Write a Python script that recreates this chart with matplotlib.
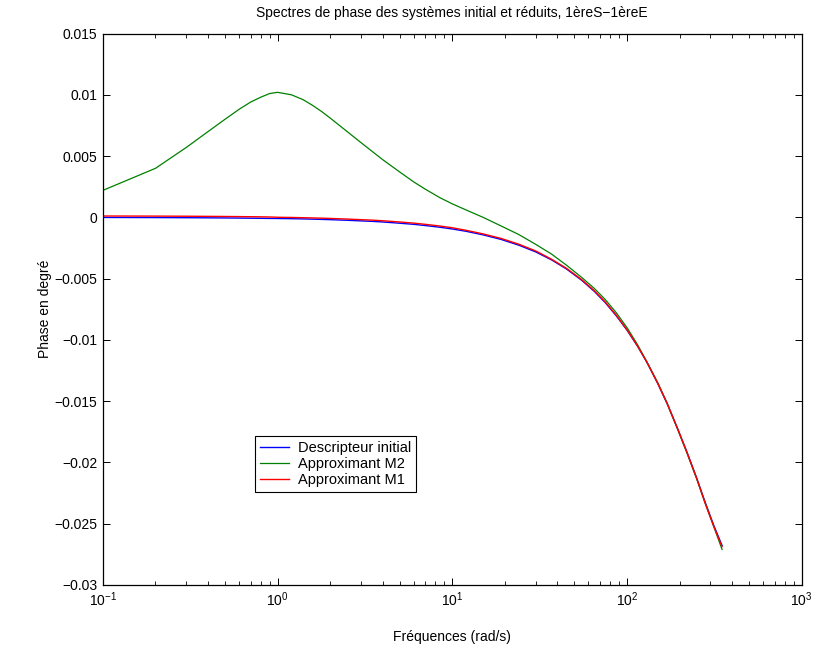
import matplotlib
matplotlib.use("Agg")
import matplotlib.pyplot as plt
from matplotlib.ticker import FuncFormatter, MultipleLocator, LogLocator, NullFormatter

freq = [0.1, 0.2, 0.3, 0.4, 0.5, 0.6, 0.7, 0.8, 0.9, 1.0, 1.2, 1.4, 1.6, 1.8, 2, 2.5, 3, 3.5, 4, 5,
        6, 7, 8.5, 10, 12, 15, 19, 24, 30, 37, 45, 55, 65, 75, 87, 100, 115, 130, 150, 170, 195,
        220, 250, 280, 315, 350]

descripteur = [-0.00001, -0.00002, -0.00003, -0.00004, -0.00005, -0.00006, -0.00007, -0.00008,
               -0.00009, -0.000095, -0.00011, -0.00013, -0.00015, -0.00017, -0.00019, -0.00024,
               -0.00029, -0.00033, -0.00038, -0.00048, -0.00057, -0.00067, -0.00081, -0.00095,
               -0.00114, -0.00143, -0.0018, -0.00227, -0.00282, -0.00347, -0.00421, -0.00513,
               -0.00604, -0.00695, -0.00805, -0.0092, -0.01052, -0.01183, -0.01356, -0.01522,
               -0.01726, -0.01914, -0.02125, -0.02324, -0.0252, -0.02678]

approx_m2 = [0.0022, 0.0040, 0.0057, 0.0070, 0.0080, 0.0088, 0.0094, 0.0098, 0.0101, 0.0102,
             0.0100, 0.0096, 0.0091, 0.0086, 0.0081, 0.0070, 0.0061, 0.00535, 0.0047, 0.0037,
             0.0029, 0.0023, 0.0016, 0.0011, 0.0006, 0.0000, -0.0007, -0.0014, -0.0022, -0.0030,
             -0.0039, -0.0049, -0.0058, -0.0067, -0.0078, -0.0090, -0.0104, -0.0118, -0.0135,
             -0.0152, -0.0173, -0.0192, -0.0213, -0.0233, -0.0253, -0.0271]

approx_m1 = [0.00011, 0.0001, 0.00009, 0.00008, 0.00007, 0.00006, 0.00005, 0.00004, 0.00003,
             0.000005, -0.00001, -0.00003, -0.00005, -0.00007, -0.00009, -0.00014, -0.00019,
             -0.00023, -0.00028, -0.00038, -0.00047, -0.00057, -0.00071, -0.00085, -0.00106,
             -0.00135, -0.00172, -0.00219, -0.00274, -0.00342, -0.00416, -0.00508, -0.00599,
             -0.0069, -0.008, -0.00918, -0.0105, -0.01181, -0.01354, -0.0152, -0.01726, -0.01914,
             -0.02125, -0.02332, -0.02528, -0.02688]

labels = ["Descripteur initial", "Approximant M2", "Approximant M1"]
title = "Spectres de phase des systèmes initial et réduits, 1èreS\u22121èreE"
xlabel = "Fréquences (rad/s)"
ylabel = "Phase en degré"

plt.rcParams['font.family'] = ['Liberation Sans', 'DejaVu Sans']
plt.rcParams['font.size'] = 10

fig = plt.figure(figsize=(8.18, 6.52), dpi=100)
W, H = 818, 652
left, right, top, bottom = 102.9, 801.7, 33.5, 585.0
ax = fig.add_axes([left / W, 1 - bottom / H, (right - left) / W, (bottom - top) / H])

ax.semilogx(freq, descripteur, color=(0, 0, 1), lw=1.0, label=labels[0])
ax.semilogx(freq, approx_m2, color=(0, 0.5, 0), lw=0.9, label=labels[1])
ax.semilogx(freq, approx_m1, color=(1, 0, 0), lw=1.0, label=labels[2])

ax.set_xlim(0.1, 1000)
ax.set_ylim(-0.03, 0.015)
ax.yaxis.set_major_locator(MultipleLocator(0.005))
ax.yaxis.set_major_formatter(FuncFormatter(lambda v, p: ('%g' % round(v, 6)).replace('-', '\u2212')))
ax.xaxis.set_major_locator(LogLocator(base=10, numticks=10))
ax.xaxis.set_minor_locator(LogLocator(base=10, subs=range(2, 10), numticks=20))
ax.xaxis.set_minor_formatter(NullFormatter())

ax.tick_params(which='both', direction='in', top=True, right=True, labelsize=10, color='black')
ax.tick_params(which='major', length=5, width=0.7, pad=4)
ax.tick_params(which='minor', length=3, width=0.6)
for s in ax.spines.values():
    s.set_linewidth(0.9)

ax.set_title(title, fontsize=10, pad=12)
ax.set_xlabel(xlabel, fontsize=10, labelpad=15)
ax.set_ylabel(ylabel, fontsize=10, labelpad=2)

leg = ax.legend(loc='lower left', bbox_to_anchor=(0.217, 0.168), fontsize=10.5, frameon=True,
                fancybox=False, edgecolor='black', framealpha=1, borderpad=0.35,
                labelspacing=0.15, handlelength=2.0, handletextpad=0.6, borderaxespad=0)
leg.get_frame().set_linewidth(0.8)

fig.savefig("out.png", dpi=100)
